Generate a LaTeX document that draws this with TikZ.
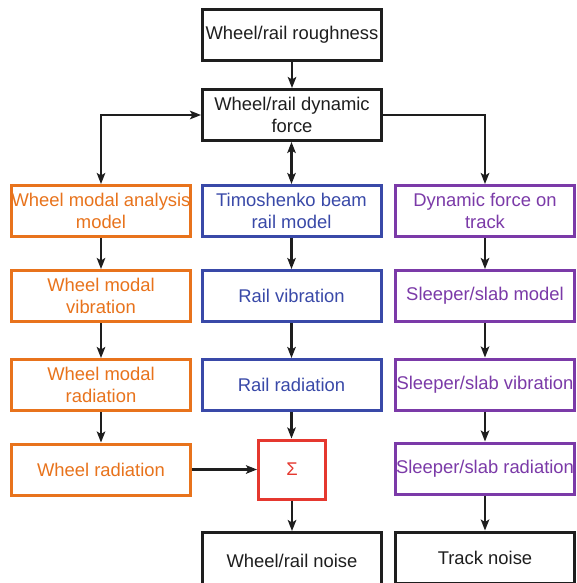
\documentclass[tikz,border=0pt]{standalone}
\usepackage{fontspec}
\setmainfont{Liberation Sans}
\usetikzlibrary{arrows.meta}
\definecolor{wheelc}{HTML}{E8731C}
\definecolor{railc}{HTML}{3949A8}
\definecolor{trackc}{HTML}{7B3AA8}
\definecolor{sumc}{HTML}{E5382F}
\definecolor{inkc}{HTML}{1E1E1E}
\begin{document}
\begin{tikzpicture}[x=1pt,y=-1pt,
  box/.style={draw=#1, text=#1, line width=3pt, minimum width=179pt,
    minimum height=51pt, inner sep=0pt, align=center, fill=white,
    font=\fontsize{18.4}{22}\selectfont},
  box/.default=inkc,
  tip/.tip={Stealth[length=11pt,width=8.5pt,inset=2.5pt]},
  flow/.style={draw=inkc, line width=2.5pt, -tip},
  both/.style={draw=inkc, line width=2.5pt, tip-tip}]
\useasboundingbox (0,0) rectangle (577,583);
\clip (0,0) rectangle (577,583);

% source and coupling
\node[box] (rough) at (292,35) {Wheel/rail roughness};
\node[box] (force) at (292,115) {Wheel/rail dynamic\\force};

% wheel branch
\node[box=wheelc] (wma)  at (101,211) {Wheel modal analysis\\model};
\node[box=wheelc] (wmv)  at (101,296) {Wheel modal\\vibration};
\node[box=wheelc] (wmr)  at (101,385) {Wheel modal\\radiation};
\node[box=wheelc] (wrad) at (101,469.5) {Wheel radiation};

% rail branch
\node[box=railc] (timo) at (291.5,211) {Timoshenko beam\\rail model};
\node[box=railc] (rvib) at (291.5,296) {Rail vibration};
\node[box=railc] (rrad) at (291.5,385) {Rail radiation};

% track branch
\node[box=trackc] (dft)  at (485,211) {Dynamic force on\\track};
\node[box=trackc] (ssm)  at (485,296) {Sleeper/slab model};
\node[box=trackc] (ssv)  at (485,384.5) {Sleeper/slab vibration};
\node[box=trackc] (ssr)  at (485,468.5) {Sleeper/slab radiation};

% summation and outputs
\node[box=sumc, minimum width=67pt, minimum height=59pt] (sum) at (292,469.5) {Σ};
\node[box, minimum height=57pt] (wrn) at (292,561) {Wheel/rail noise};
\node[box, minimum height=51pt] (trn) at (485,557.5) {Track noise};

% connectors
\draw[flow] (rough) -- (force);
\draw[both] (wma.north) |- (force.west);
\draw[both] (force.south -| timo.north) -- (timo.north);
\draw[flow] (force.east) -| (dft.north);

\draw[flow] (wma) -- (wmv);
\draw[flow] (wmv) -- (wmr);
\draw[flow] (wmr) -- (wrad);
\draw[flow] (wrad) -- (sum);

\draw[flow] (timo) -- (rvib);
\draw[flow] (rvib) -- (rrad);
\draw[flow] (rrad.south) -- (sum.north -| rrad.south);
\draw[flow] (sum) -- (wrn);

\draw[flow] (dft) -- (ssm);
\draw[flow] (ssm) -- (ssv);
\draw[flow] (ssv) -- (ssr);
\draw[flow] (ssr) -- (trn);
\end{tikzpicture}
\end{document}
